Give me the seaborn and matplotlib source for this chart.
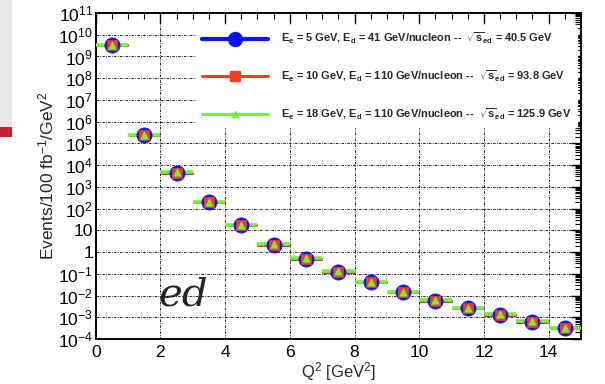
import numpy as np
import pandas as pd
import matplotlib
matplotlib.use("Agg")
import matplotlib.pyplot as plt
import seaborn as sns
from matplotlib.lines import Line2D
from matplotlib.patches import Rectangle
from matplotlib.ticker import FixedLocator, FuncFormatter

# ---- data ----
q2 = [0.5, 1.5, 2.5, 3.5, 4.5, 5.5, 6.5, 7.5, 8.5, 9.5, 10.5, 11.5, 12.5, 13.5, 14.5]
bin_half = [0.5] * len(q2)
ev_5_41 = [3.3e9, 2.4e5, 4.5e3, 2.0e2, 1.7e1, 2.2, 0.50, 0.126, 0.040, 0.014, 0.0059, 0.0026, 0.0013, 6.3e-4, 3.2e-4]
ev_10_110 = [3.3e9, 2.4e5, 4.4e3, 2.0e2, 1.7e1, 2.2, 0.50, 0.125, 0.040, 0.014, 0.0059, 0.0026, 0.0013, 6.3e-4, 3.2e-4]
ev_18_110 = [3.4e9, 2.5e5, 4.7e3, 2.0e2, 1.8e1, 2.3, 0.52, 0.130, 0.041, 0.0145, 0.0061, 0.0027, 0.00135, 6.5e-4, 3.3e-4]
labels = [r"E$_{\mathbf{e}}$ = 5 GeV, E$_{\mathbf{d}}$ = 41 GeV/nucleon --  $\sqrt{\mathbf{s}}_{\mathbf{ed}}$ = 40.5 GeV",
          r"E$_{\mathbf{e}}$ = 10 GeV, E$_{\mathbf{d}}$ = 110 GeV/nucleon --  $\sqrt{\mathbf{s}}_{\mathbf{ed}}$ = 93.8 GeV",
          r"E$_{\mathbf{e}}$ = 18 GeV, E$_{\mathbf{d}}$ = 110 GeV/nucleon --  $\sqrt{\mathbf{s}}_{\mathbf{ed}}$ = 125.9 GeV"]
y_ticks = [1e-4, 1e-3, 1e-2, 1e-1, 1, 10, 1e2, 1e3, 1e4, 1e5, 1e6, 1e7, 1e8, 1e9, 1e10, 1e11]
x_ticks = [0, 2, 4, 6, 8, 10, 12, 14]

sns.set_theme(style="white")
plt.rcParams["font.family"] = ["Liberation Sans", "DejaVu Sans"]
plt.rcParams["mathtext.fontset"] = "custom"
plt.rcParams["mathtext.rm"] = "Liberation Sans"
plt.rcParams["mathtext.it"] = "Liberation Sans:italic"
plt.rcParams["mathtext.bf"] = "Liberation Sans:bold"

fig = plt.figure(figsize=(6.05, 3.84), dpi=100)
ax_bottom_px = 339
ax = fig.add_axes([95.7 / 605, (384 - ax_bottom_px) / 384, (581 - 95.7) / 605, (ax_bottom_px - 13) / 384])

# decorations at left edge
fig.patches.append(Rectangle((0, 1 - 127 / 384), 12 / 605, 127 / 384, transform=fig.transFigure,
                             facecolor="#e5e6e8", edgecolor="none", zorder=0))
fig.patches.append(Rectangle((0, 1 - 137 / 384), 12 / 605, 10 / 384, transform=fig.transFigure,
                             facecolor="#c8202f", edgecolor="none", zorder=0))

df = pd.DataFrame({"q2": q2 * 3,
                   "ev": ev_5_41 + ev_10_110 + ev_18_110,
                   "set": [labels[0]] * 15 + [labels[1]] * 15 + [labels[2]] * 15})

colors = ["#0a14f0", "#f0401a", "#76f03a"]
markers = ["o", "s", "^"]
sizes = [120, 50, 28]
bar_lw = [2.0, 1.8, 2.6]

for i, lab in enumerate(labels):
    sub = df[df["set"] == lab]
    ax.errorbar(sub["q2"], sub["ev"], xerr=bin_half, fmt="none", ecolor=colors[i],
                elinewidth=bar_lw[i], capsize=0, zorder=3 + i)
    sns.scatterplot(data=sub, x="q2", y="ev", ax=ax, color=colors[i], marker=markers[i],
                    s=sizes[i], edgecolor=colors[i], linewidth=0.5, zorder=6 + i, legend=False)

ax.set_yscale("log")
ax.set_xlim(0, 15)
ax.set_ylim(1e-4, 1e11)

def yfmt(v, pos):
    e = int(round(np.log10(v)))
    if e == 0:
        return "1"
    if e == 1:
        return "10"
    return r"$10^{%d}$" % e

ax.yaxis.set_major_locator(FixedLocator(y_ticks))
ax.yaxis.set_major_formatter(FuncFormatter(yfmt))
ax.yaxis.set_minor_locator(matplotlib.ticker.LogLocator(base=10, subs=np.arange(2, 10), numticks=100))
ax.yaxis.set_minor_formatter(matplotlib.ticker.NullFormatter())
ax.xaxis.set_major_locator(FixedLocator(x_ticks))
ax.xaxis.set_minor_locator(matplotlib.ticker.MultipleLocator(0.5))

ax.tick_params(axis="both", which="both", direction="in", top=True, right=True, colors="black")
ax.tick_params(axis="both", which="major", length=7, width=1.0, labelsize=12.5, pad=4)
ax.tick_params(axis="both", which="minor", length=4, width=0.8)
ax.tick_params(axis="y", which="major", pad=2)
ax.tick_params(axis="x", which="major", pad=4.5)

for s in ax.spines.values():
    s.set_color("black")
    s.set_linewidth(1.4)

ax.grid(True, which="major", color="black", linestyle=(0, (3, 1.5, 1, 1.5)), linewidth=0.6)
ax.set_axisbelow(True)

ax.set_ylabel(r"Events/100 fb$^{-1}$/GeV$^{2}$", fontsize=12.5, labelpad=1)
ax.set_xlabel(r"Q$^{2}$ [GeV$^{2}$]", fontsize=12, labelpad=0)

handles = [Line2D([0], [0], color=colors[0], lw=3.0, marker="o", markersize=10),
           Line2D([0], [0], color=colors[1], lw=2.2, marker="s", markersize=7),
           Line2D([0], [0], color=colors[2], lw=2.2, marker="^", markersize=5)]
leg = ax.legend(handles, labels, loc="upper left",
                bbox_to_anchor=((191 - 95.7) / 485.3, (ax_bottom_px - 20) / (ax_bottom_px - 13)),
                frameon=True, fancybox=False, framealpha=1, edgecolor="white", facecolor="white",
                prop={"weight": "bold", "size": 7.9}, handlelength=6.0, handletextpad=1.2,
                labelspacing=2.05, borderpad=0.5)
leg.set_zorder(20)

fig.text(158 / 605, 1 - 305 / 384, "ed", fontsize=29, family="DejaVu Serif", style="italic",
         ha="left", va="baseline")

fig.savefig("out.png", dpi=100)
